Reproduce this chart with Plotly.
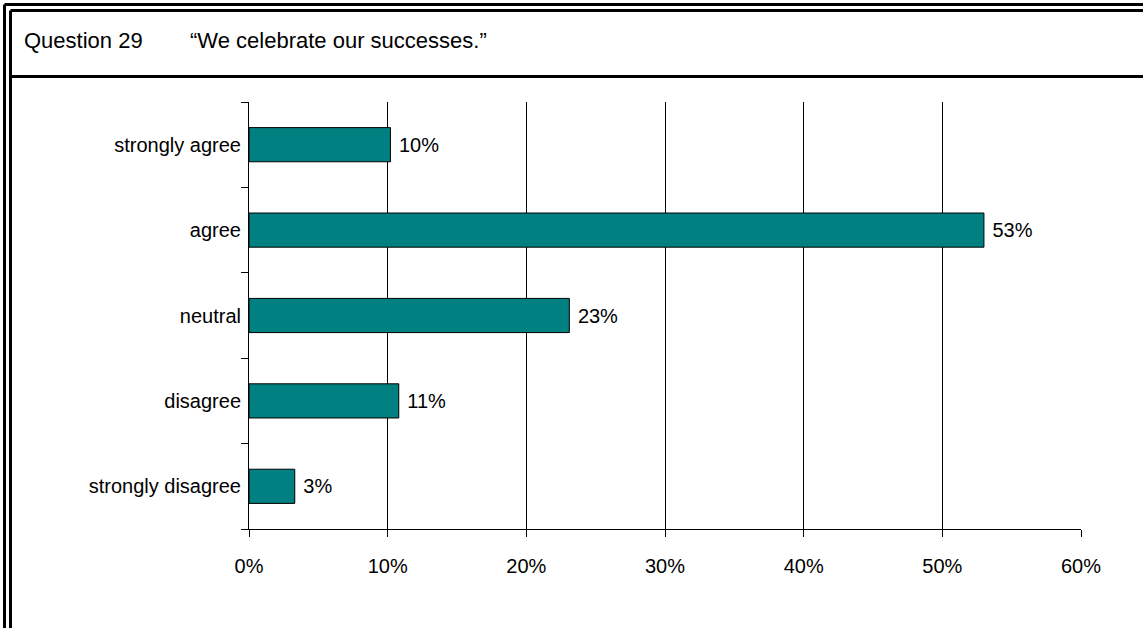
import plotly.graph_objects as go

# Survey responses, Question 29
categories = ["strongly agree", "agree", "neutral", "disagree", "strongly disagree"]
shares = [10.2, 53.0, 23.1, 10.8, 3.3]  # percent of respondents
x_ticks = [0, 10, 20, 30, 40, 50, 60]
x_tick_labels = ["0%", "10%", "20%", "30%", "40%", "50%", "60%"]

question_label = "Question 29"
statement = "\u201cWe celebrate our successes.\u201d"

W, H = 1143, 628
PLOT_L, PLOT_R, PLOT_T, PLOT_B = 249, 1081, 102, 529
FONT = "Arial, Liberation Sans, sans-serif"
LABEL_SIZE = 20


def px_x(px):
    return (px - PLOT_L) / (PLOT_R - PLOT_L)


def px_y(py):
    return (PLOT_B - py) / (PLOT_B - PLOT_T)


fig = go.Figure(
    go.Bar(
        y=categories,
        x=shares,
        orientation="h",
        marker=dict(color="#008080", line=dict(color="black", width=1)),
        texttemplate=" %{x:.0f}%",
        textposition="outside",
        textfont=dict(family=FONT, size=LABEL_SIZE, color="black"),
        cliponaxis=False,
        hoverinfo="skip",
    )
)

fig.update_layout(
    width=W,
    height=H,
    margin=dict(l=PLOT_L, r=W - PLOT_R, t=PLOT_T, b=H - PLOT_B, pad=0),
    paper_bgcolor="white",
    plot_bgcolor="white",
    showlegend=False,
    bargap=0.6,
    font=dict(family=FONT, size=LABEL_SIZE, color="black"),
)

fig.update_xaxes(
    range=[0, 60],
    tickvals=x_ticks,
    ticktext=x_tick_labels,
    ticks="outside",
    ticklen=7,
    tickcolor="black",
    showline=True,
    linecolor="black",
    linewidth=1,
    showgrid=True,
    gridcolor="black",
    gridwidth=1,
    zeroline=False,
    ticklabelstandoff=12,
    tickfont=dict(family=FONT, size=LABEL_SIZE, color="black"),
)

fig.update_yaxes(
    type="category",
    categoryorder="array",
    categoryarray=categories[::-1],
    ticks="outside",
    tickson="boundaries",
    ticklen=7,
    tickcolor="black",
    showline=True,
    linecolor="black",
    linewidth=1,
    showgrid=False,
    ticklabelstandoff=3,
    tickfont=dict(family=FONT, size=LABEL_SIZE, color="black"),
)

# Double-ruled frame around the panel and the divider under the heading
frame_lines = [
    (4.5, 4.5, 4.5, H + 20, 3),
    (10.5, 10.5, 10.5, H + 20, 3),
    (4.5, 4.5, W + 20, 4.5, 3),
    (10.5, 10.5, W + 20, 10.5, 3),
    (10.5, 76.5, W + 20, 76.5, 3),
]
for x0, y0, x1, y1, w in frame_lines:
    fig.add_shape(
        type="line",
        xref="paper",
        yref="paper",
        x0=px_x(x0),
        y0=px_y(y0),
        x1=px_x(x1),
        y1=px_y(y1),
        line=dict(color="black", width=w),
        layer="above",
    )

# Heading: question number and statement
for text, left in [(question_label, 22), (statement, 188)]:
    fig.add_annotation(
        text=text,
        xref="paper",
        yref="paper",
        x=px_x(left),
        y=px_y(40),
        xanchor="left",
        yanchor="middle",
        showarrow=False,
        font=dict(family=FONT, size=22, color="black"),
    )

fig.write_html("out.html")
